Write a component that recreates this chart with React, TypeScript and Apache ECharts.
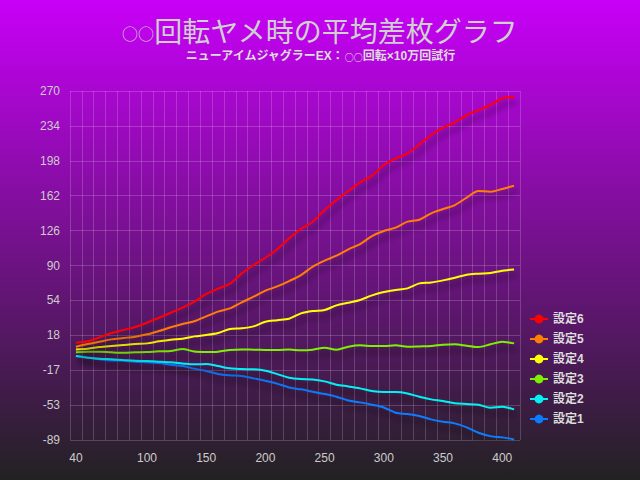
import React, { useEffect, useRef } from "react";
import * as echarts from "echarts";

const categories = [
  "40", "50", "60", "70", "80", "90", "100", "110", "120", "130",
  "140", "150", "160", "170", "180", "190", "200", "210", "220", "230",
  "240", "250", "260", "270", "280", "290", "300", "310", "320", "330",
  "340", "350", "360", "370", "380", "390", "400", "410",
];
const shownXLabels = ["40", "100", "150", "200", "250", "300", "350", "400"];

const names = ["設定1", "設定2", "設定3", "設定4", "設定5", "設定6"];
const colors = ["#0a7cff", "#00f2f2", "#7cf000", "#ffff00", "#ff7f00", "#ff0000"];

const set6 = [
  11.1, 12.5, 16.6, 21.0, 24.1, 27.2, 31.7, 36.8, 41.9, 47.1,
  53.3, 61.2, 66.7, 71.8, 82.4, 91.0, 98.5, 107.2, 118.4, 128.0,
  135.6, 147.6, 157.9, 167.1, 176.0, 182.9, 193.9, 200.7, 205.9, 215.1,
  224.7, 232.3, 237.8, 245.3, 250.4, 255.6, 262.5, 263.8,
];
const set5 = [
  7.0, 9.7, 12.1, 14.5, 15.9, 17.3, 19.7, 23.1, 26.9, 30.3,
  33.1, 38.2, 43.0, 46.4, 52.6, 58.4, 64.6, 69.0, 74.5, 80.7,
  89.3, 95.5, 100.6, 107.1, 112.6, 120.8, 126.0, 129.4, 135.6, 137.6,
  144.2, 148.6, 152.7, 160.3, 167.1, 166.4, 169.2, 172.6,
];
const set4 = [
  4.2, 4.9, 6.6, 7.7, 8.7, 9.7, 10.4, 12.5, 14.2, 15.2,
  17.6, 19.0, 21.1, 25.2, 25.9, 27.9, 32.7, 34.3, 35.8, 41.3,
  43.7, 44.7, 49.5, 52.2, 55.0, 59.8, 63.2, 65.3, 67.0, 72.1,
  73.1, 75.2, 77.9, 81.0, 82.1, 82.8, 85.2, 86.5,
];
const set3 = [
  1.2, 1.8, 1.8, 1.2, 0.8, 1.2, 1.5, 2.2, 2.5, 4.6,
  2.0, 1.5, 1.8, 3.6, 4.2, 3.9, 3.6, 3.5, 4.2, 3.2,
  3.9, 5.9, 3.9, 7.0, 8.4, 7.7, 7.7, 8.4, 7.0, 7.3,
  7.7, 9.0, 9.4, 8.0, 6.6, 9.4, 12.1, 10.4,
];
const set2 = [
  -2.6, -4.3, -5.4, -6.0, -6.7, -7.4, -7.8, -8.4, -9.1, -10.2,
  -11.2, -10.8, -12.9, -15.3, -16.0, -16.3, -17.7, -21.2, -24.9, -26.3,
  -26.7, -28.7, -32.1, -33.9, -35.9, -38.6, -39.7, -39.7, -41.1, -44.5,
  -47.2, -48.9, -51.3, -52.0, -52.7, -55.8, -54.8, -57.5,
];
const set1 = [
  -2.6, -4.0, -6.0, -7.1, -7.4, -8.4, -9.1, -9.8, -11.5, -12.9,
  -15.6, -18.0, -21.1, -22.5, -23.2, -25.6, -28.0, -31.0, -34.9, -36.9,
  -39.3, -41.7, -44.5, -48.3, -50.3, -52.7, -55.5, -60.9, -62.3, -64.4,
  -67.8, -70.2, -71.9, -76.0, -81.5, -85.0, -86.3, -88.4,
];

const seriesData = [set1, set2, set3, set4, set5, set6];
const legendOrder = ["設定6", "設定5", "設定4", "設定3", "設定2", "設定1"];

const yMin = -89;
const yMax = 270;
const yInterval = 35.9;

const titleCircles = "○○";
const titleRest = "回転ヤメ時の平均差枚グラフ";
const subCircles = "○○";
const subBefore = "ニューアイムジャグラーEX：";
const subAfter = "回転×10万回試行";

const FONT = "'Liberation Sans', 'Noto Sans CJK JP', sans-serif";
const CJK = "'Noto Sans CJK JP', sans-serif";

export default function App() {
  const ref = useRef<HTMLDivElement>(null);

  useEffect(() => {
    if (!ref.current) return;
    const chart = echarts.init(ref.current, undefined, { renderer: "svg" });
    const option = {
      animation: false,
      backgroundColor: {
        type: "linear",
        x: 0,
        y: 0,
        x2: 0,
        y2: 1,
        colorStops: [
          { offset: 0, color: "#c800f8" },
          { offset: 1, color: "#222222" },
        ],
      },
      title: [
        {
          left: "center",
          top: 9,
          text: `{c|${titleCircles}}{t|${titleRest}}`,
          textStyle: {
            fontWeight: "normal",
            rich: {
              c: {
                color: "#cfcfcf",
                fontSize: 16,
                fontWeight: "normal",
                fontFamily: CJK,
                verticalAlign: "bottom",
                lineHeight: 30,
                padding: [0, 0, 3, 0],
              },
              t: {
                color: "#cfcfcf",
                fontSize: 28,
                fontWeight: "normal",
                lineHeight: 30,
                fontFamily: CJK,
                verticalAlign: "bottom",
              },
            },
          },
        },
        {
          left: "center",
          top: 43,
          text: `{t|${subBefore}}{c|${subCircles}}{t|${subAfter}}`,
          textStyle: {
            rich: {
              c: {
                color: "#dddddd",
                fontSize: 9,
                fontWeight: "bold",
                fontFamily: CJK,
                verticalAlign: "bottom",
                lineHeight: 14,
              },
              t: {
                color: "#dddddd",
                fontSize: 12,
                fontWeight: "bold",
                lineHeight: 14,
                fontFamily: FONT,
                verticalAlign: "bottom",
              },
            },
          },
        },
      ],
      legend: {
        orient: "vertical",
        left: 524,
        top: 308,
        itemWidth: 18,
        itemHeight: 11,
        itemGap: 8,
        data: legendOrder,
        textStyle: {
          color: "#dddddd",
          fontSize: 12,
          fontWeight: "bold",
          fontFamily: FONT,
        },
      },
      grid: {
        left: 70,
        right: 120,
        top: 91,
        bottom: 40,
        containLabel: false,
      },
      xAxis: {
        type: "category",
        data: categories,
        boundaryGap: true,
        axisLine: { show: false },
        axisTick: { show: false },
        axisLabel: {
          color: "#cccccc",
          fontSize: 12,
          fontFamily: FONT,
          margin: 12,
          showMinLabel: true,
          interval: (_index: number, value: string) => shownXLabels.includes(String(value)),
        },
        splitLine: {
          show: true,
          interval: 0,
          lineStyle: { color: "rgba(255,255,255,0.18)", width: 1 },
        },
      },
      yAxis: {
        type: "value",
        min: yMin,
        max: yMax,
        interval: yInterval,
        axisLine: { show: false },
        axisTick: { show: false },
        axisLabel: {
          color: "#cccccc",
          fontSize: 12,
          fontFamily: FONT,
          margin: 10,
          formatter: (v: number) => String(Math.trunc(Math.round(v * 10) / 10)),
        },
        splitLine: {
          show: true,
          lineStyle: { color: "rgba(255,255,255,0.18)", width: 1 },
        },
      },
      series: names.map((name, i) => ({
        name,
        type: "line",
        data: seriesData[i],
        smooth: 0.3,
        symbol: "circle",
        symbolSize: 10,
        showSymbol: false,
        color: colors[i],
        lineStyle: {
          width: 2,
          color: colors[i],
          shadowColor: "rgba(0,0,0,0.55)",
          shadowBlur: 6,
          shadowOffsetX: 3,
          shadowOffsetY: 6,
        },
        itemStyle: {
          color: colors[i],
          shadowColor: "rgba(0,0,0,0.5)",
          shadowBlur: 4,
          shadowOffsetX: 2,
          shadowOffsetY: 4,
        },
      })),
    };
    chart.setOption(option as any);
    return () => {
      chart.dispose();
    };
  }, []);

  return (
    <div
      ref={ref}
      style={{ position: "fixed", left: 0, top: 0, width: 640, height: 480 }}
    />
  );
}
